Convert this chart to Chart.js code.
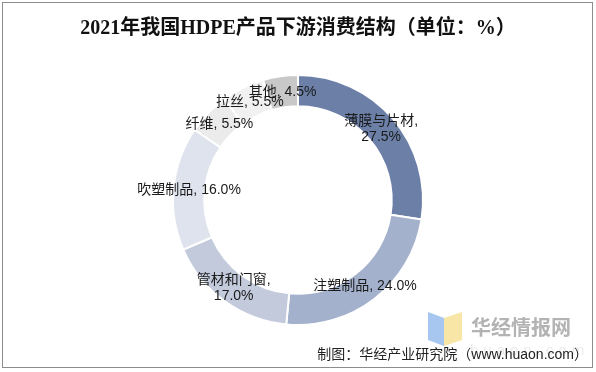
<!DOCTYPE html>
<html>
<head>
<meta charset="utf-8">
<script src="https://cdn.jsdelivr.net/npm/chart.js@4/dist/chart.umd.min.js"></script>
<style>
  html, body { margin: 0; padding: 0; background: #fff; }
  #wrap { position: relative; width: 596px; height: 372px; overflow: hidden; background: #fff; }
  #frame { position: absolute; left: 2px; top: 2px; width: 591px; height: 366px; border: 1px solid #8c8c8c; box-sizing: border-box; pointer-events: none; }
  canvas { position: absolute; left: 0; top: 0; }
  #title { position: absolute; left: 0; width: 596px; top: 11px; text-align: center; font-family: "Liberation Serif", "Noto Sans CJK SC", serif; font-weight: bold; font-size: 20px; color: #111; white-space: nowrap; }
  #footer { position: absolute; right: 8px; top: 343px; font-family: "Liberation Sans", "Noto Sans CJK SC", sans-serif; font-size: 14px; color: #222; white-space: nowrap; }
  #wm { position: absolute; left: 471px; top: 312px; font-family: "Noto Sans CJK SC", sans-serif; font-weight: bold; font-size: 20px; color: #b3b3b3; white-space: nowrap; }
  #wm2 { position: absolute; left: 470px; top: 341px; font-family: "Liberation Sans", sans-serif; font-size: 15px; color: #ececec; letter-spacing: 5px; white-space: nowrap; }
</style>
</head>
<body>
<div id="wrap">
  <canvas id="c" width="596" height="372"></canvas>
  <svg style="position:absolute;left:426px;top:310px" width="40" height="40">
    <polygon points="2,2 18,8 18,36 2,30" fill="#a7c6f0"/>
    <polygon points="18,8 36,2 36,30 18,36" fill="#f8e6a6"/>
  </svg>
  <div id="wm">华经情报网</div>
  <div id="wm2">huaon.com</div>
  <div id="title">2021年我国HDPE产品下游消费结构（单位：%）</div>
  <div id="footer">制图：华经产业研究院（www.huaon.com）</div>
  <div id="frame"></div>
</div>
<script>
const categories = ["薄膜与片材", "注塑制品", "管材和门窗", "吹塑制品", "纤维", "拉丝", "其他"];
const shares = [27.5, 24.0, 17.0, 16.0, 5.5, 5.5, 4.5];
const colors = ["#6b7fa7", "#a4b1cc", "#c2cadc", "#dee3ed", "#ebebeb", "#f1f1f1", "#c8c8c8"];
const twoLine = [true, false, true, false, false, false, false];

const labelPlugin = {
  id: 'sliceLabels',
  afterDatasetsDraw(chart) {
    const ctx = chart.ctx;
    const meta = chart.getDatasetMeta(0);
    ctx.save();
    ctx.font = '14px "Liberation Sans", "Noto Sans CJK SC", sans-serif';
    ctx.fillStyle = '#1a1a1a';
    ctx.textAlign = 'center';
    ctx.textBaseline = 'middle';
    meta.data.forEach((arc, i) => {
      const p = arc.getProps(['x', 'y', 'startAngle', 'endAngle', 'innerRadius', 'outerRadius'], true);
      const mid = (p.startAngle + p.endAngle) / 2;
      const r = (p.innerRadius + p.outerRadius) / 2;
      const x = p.x + Math.cos(mid) * r;
      const y = p.y + Math.sin(mid) * r;
      const val = shares[i].toFixed(1) + '%';
      if (twoLine[i]) {
        ctx.fillText(categories[i] + ',', x, y - 8);
        ctx.fillText(val, x, y + 8);
      } else {
        ctx.fillText(categories[i] + ', ' + val, x, y);
      }
    });
    ctx.restore();
  }
};

new Chart(document.getElementById('c'), {
  type: 'doughnut',
  data: {
    labels: categories,
    datasets: [{
      data: shares,
      backgroundColor: colors,
      borderColor: '#ffffff',
      borderWidth: 2
    }]
  },
  options: {
    responsive: false,
    animation: false,
    cutout: '75%',
    layout: { padding: { top: 74, bottom: 46, left: 0, right: 0 } },
    plugins: {
      legend: { display: false },
      title: { display: false },
      tooltip: { enabled: false }
    }
  },
  plugins: [labelPlugin]
});
</script>
</body>
</html>
